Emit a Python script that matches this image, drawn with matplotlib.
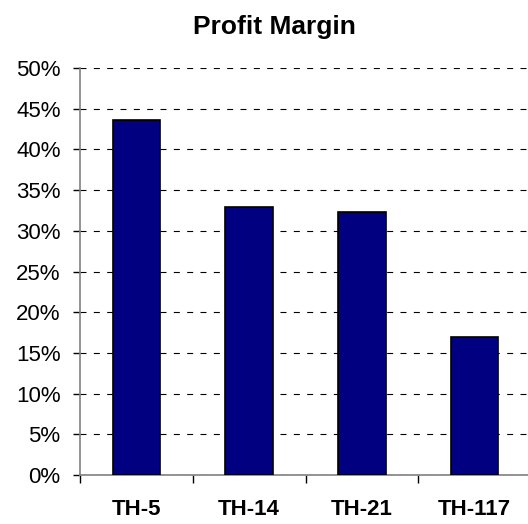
import matplotlib
matplotlib.use("Agg")
import matplotlib.pyplot as plt
from matplotlib.ticker import FixedLocator, PercentFormatter

categories = ["TH-5", "TH-14", "TH-21", "TH-117"]
margins = [43.6, 32.9, 32.3, 17.0]
yticks = [0, 5, 10, 15, 20, 25, 30, 35, 40, 45, 50]

plt.rcParams['font.family'] = ['Liberation Sans', 'DejaVu Sans']

fig = plt.figure(figsize=(5.28, 5.24), dpi=100)
W, H = 528, 524
left, right, bottom, top = 80, 531, 475, 68
ax = fig.add_axes([left / W, 1 - bottom / H, (right - left) / W, (bottom - top) / H])

x = list(range(1, len(categories) + 1))
ax.bar(x, margins, width=0.42, color="#000080", edgecolor="black", linewidth=1.2, zorder=3)

ax.set_xlim(0.5, len(categories) + 0.5)
ax.set_ylim(0, 50)
ax.set_yticks(yticks)
ax.yaxis.set_major_formatter(PercentFormatter(decimals=0))
ax.set_xticks(x)
ax.set_xticklabels(categories, fontweight="bold", fontsize=16)
ax.xaxis.set_minor_locator(FixedLocator([i + 0.5 for i in range(len(categories) + 1)]))

ax.tick_params(axis="x", which="major", length=0, pad=17)
ax.tick_params(axis="x", which="minor", length=6, width=1, color="black", direction="out")
ax.tick_params(axis="y", which="major", length=5, width=1, color="black", labelsize=16, pad=9)

ax.yaxis.grid(True, linestyle=(0, (5.4, 6.6)), color="black", linewidth=0.8, zorder=0)
ax.set_axisbelow(True)

for s in ["top", "right"]:
    ax.spines[s].set_visible(False)
ax.spines["left"].set_color("#808080")
ax.spines["bottom"].set_color("#808080")
ax.spines["left"].set_linewidth(1.2)
ax.spines["bottom"].set_linewidth(1.2)

fig.text(274 / W, 1 - 34 / H, "Profit Margin", ha="center", va="baseline",
         fontsize=19, fontweight="bold")

fig.savefig("out.png", dpi=100)
